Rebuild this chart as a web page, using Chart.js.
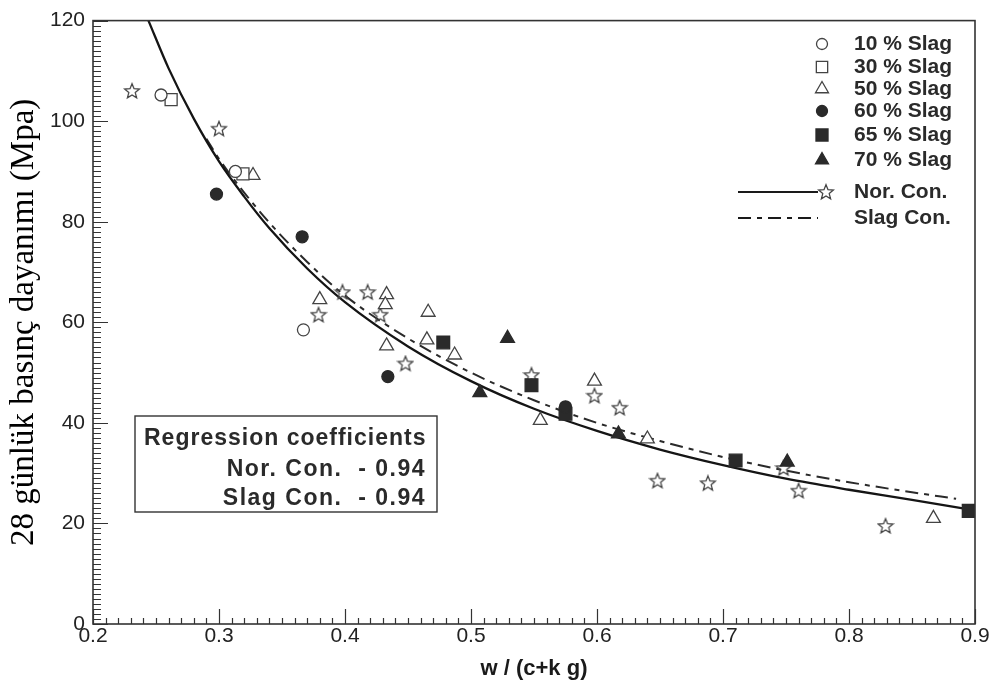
<!DOCTYPE html>
<html>
<head>
<meta charset="utf-8">
<script src="https://cdn.jsdelivr.net/npm/chart.js@4/dist/chart.umd.min.js"></script>
<style>
  body { margin: 0; background: #fff; }
  #wrap { width: 995px; height: 695px; }
</style>
</head>
<body>
<div id="wrap"><canvas id="chart" width="995" height="695"></canvas></div>
<script>
// --- data ---
const slag10 = [[0.254, 105.2], [0.313, 90], [0.367, 58.5]];
const slag30 = [[0.262, 104.3], [0.319, 89.5]];
const slag50 = [[0.327, 89.2], [0.380, 64.5], [0.433, 65.5], [0.432, 63.5], [0.433, 55.3],
                [0.466, 62], [0.465, 56.5], [0.487, 53.5], [0.555, 40.5], [0.598, 48.3],
                [0.640, 36.8], [0.867, 21]];
const slag60 = [[0.298, 85.5], [0.366, 77], [0.434, 49.2], [0.575, 43.2]];
const slag65 = [[0.478, 56], [0.548, 47.5], [0.575, 41.8], [0.710, 32.5], [0.895, 22.5]];
const slag70 = [[0.507, 46], [0.529, 56.8], [0.617, 37.8], [0.751, 32.2]];
const norCon = [[0.231, 106], [0.300, 98.5], [0.379, 61.5], [0.398, 66], [0.418, 66],
                [0.428, 61.5], [0.448, 51.8], [0.548, 49.5], [0.598, 45.4], [0.618, 43],
                [0.648, 28.5], [0.688, 28], [0.748, 31], [0.760, 26.5], [0.829, 19.5]];

// regression curves
const norFitX = [0.244, 0.26, 0.28, 0.30, 0.32, 0.34, 0.37, 0.40, 0.45, 0.50, 0.55, 0.60, 0.65, 0.70, 0.75, 0.80, 0.85, 0.90];
const norFitY = [120, 110.5, 100.5, 92, 85, 78.7, 70.7, 64, 55.2, 48.3, 42.8, 38.4, 34.7, 31.6, 28.9, 26.7, 24.7, 22.6];
const slagFitX = [0.29, 0.30, 0.32, 0.34, 0.37, 0.40, 0.45, 0.50, 0.55, 0.60, 0.65, 0.70, 0.75, 0.80, 0.85, 0.885];
const slagFitY = [96.5, 92.5, 85.8, 79.8, 72, 65.3, 56.8, 50, 44.5, 40, 36.4, 33.2, 30.5, 28.2, 26.2, 24.9];

const seriesNames = ['10 % Slag', '30 % Slag', '50 % Slag', '60 % Slag', '65 % Slag', '70 % Slag', 'Nor. Con.', 'Slag Con.'];
const xTicks = [0.2, 0.3, 0.4, 0.5, 0.6, 0.7, 0.8, 0.9];
const yTicks = [0, 20, 40, 60, 80, 100, 120];
const regLines = ['Nor. Con.  - 0.94', 'Slag Con.  - 0.94'];

const INK = '#2a2a2a';
const SANS = "'Liberation Sans', Arial, sans-serif";

// open five-point star marker
function makeStar() {
  const c = document.createElement('canvas');
  c.width = 18; c.height = 18;
  const g = c.getContext('2d');
  g.beginPath();
  for (let i = 0; i < 10; i++) {
    const r = i % 2 === 0 ? 7.8 : 3.4;
    const a = -Math.PI / 2 + i * Math.PI / 5;
    const px = 9 + r * Math.cos(a), py = 9.5 + r * Math.sin(a);
    if (i === 0) g.moveTo(px, py); else g.lineTo(px, py);
  }
  g.closePath();
  g.strokeStyle = '#444';
  g.lineWidth = 1.3;
  g.stroke();
  return c;
}
const starImg = makeStar();

const toPts = arr => arr.map(p => ({ x: p[0], y: p[1] }));
const zipPts = (xs, ys) => xs.map((x, i) => ({ x: x, y: ys[i] }));

const markerStyles = [
  { pointStyle: 'circle', radius: 6, fill: '#fff', border: '#444' },
  { pointStyle: 'rect', radius: 8.5, fill: '#fff', border: '#444' },
  { pointStyle: 'triangle', radius: 8, fill: '#fff', border: '#444' },
  { pointStyle: 'circle', radius: 6, fill: INK, border: INK },
  { pointStyle: 'rect', radius: 9, fill: INK, border: INK },
  { pointStyle: 'triangle', radius: 8, fill: INK, border: INK }
];
const scatterData = [slag10, slag30, slag50, slag60, slag65, slag70];

const datasets = scatterData.map((d, i) => ({
  label: seriesNames[i],
  data: toPts(d),
  showLine: false,
  pointStyle: markerStyles[i].pointStyle,
  pointRadius: markerStyles[i].radius,
  pointBackgroundColor: markerStyles[i].fill,
  pointBorderColor: markerStyles[i].border,
  pointBorderWidth: 1.3
}));
datasets.push({
  label: 'Nor. Con.',
  data: toPts(norCon),
  showLine: false,
  pointStyle: starImg,
  pointRadius: 8
});
datasets.push({
  label: 'Nor. Con. fit',
  data: zipPts(norFitX, norFitY),
  showLine: true,
  pointRadius: 0,
  borderColor: '#151515',
  borderWidth: 2.3,
  cubicInterpolationMode: 'monotone'
});
datasets.push({
  label: 'Slag Con. fit',
  data: zipPts(slagFitX, slagFitY),
  showLine: true,
  pointRadius: 0,
  borderColor: '#2a2a2a',
  borderWidth: 2,
  borderDash: [13, 6, 5, 6],
  cubicInterpolationMode: 'monotone'
});

// inward ticks, frame, legend and regression note
const decor = {
  id: 'decor',
  afterDraw(chart) {
    const { ctx, chartArea: a, scales: { x, y } } = chart;
    ctx.save();
    ctx.strokeStyle = '#333';
    ctx.lineWidth = 1.2;
    ctx.beginPath();
    for (let i = 0; i <= 70; i++) {
      const px = Math.round(x.getPixelForValue(0.2 + i / 100)) + 0.5;
      const len = i % 10 === 0 ? 15 : 6;
      ctx.moveTo(px, a.bottom); ctx.lineTo(px, a.bottom - len);
    }
    for (let i = 0; i <= 120; i++) {
      const py = Math.round(y.getPixelForValue(i)) + 0.5;
      const len = i % 20 === 0 ? 15 : 8;
      ctx.moveTo(a.left, py); ctx.lineTo(a.left + len, py);
    }
    ctx.stroke();

    ctx.lineWidth = 1.6;
    ctx.strokeRect(a.left, a.top, a.right - a.left, a.bottom - a.top);

    // legend
    const rows = [44, 67, 89, 111, 135, 160];
    ctx.font = 'bold 21px ' + SANS;
    ctx.textBaseline = 'middle';
    ctx.textAlign = 'left';
    rows.forEach((ry, i) => {
      const m = markerStyles[i];
      ctx.fillStyle = m.fill;
      ctx.strokeStyle = m.border;
      ctx.lineWidth = 1.3;
      Chart.helpers.drawPoint(ctx, { pointStyle: m.pointStyle, radius: m.radius - 0.5, rotation: 0, borderWidth: 1.3 }, 822, ry);
      ctx.fillStyle = INK;
      ctx.fillText(seriesNames[i], 854, ry);
    });
    ctx.strokeStyle = '#1a1a1a';
    ctx.lineWidth = 2;
    ctx.beginPath(); ctx.moveTo(738, 192); ctx.lineTo(818, 192); ctx.stroke();
    ctx.drawImage(starImg, 817, 183);
    ctx.fillText(seriesNames[6], 854, 192);
    ctx.setLineDash([13, 6, 5, 6]);
    ctx.beginPath(); ctx.moveTo(738, 218); ctx.lineTo(818, 218); ctx.stroke();
    ctx.setLineDash([]);
    ctx.fillText(seriesNames[7], 854, 218);

    // regression coefficients box
    ctx.fillStyle = '#fff';
    ctx.fillRect(135, 416, 302, 96);
    ctx.strokeStyle = '#333';
    ctx.lineWidth = 1.4;
    ctx.strokeRect(135, 416, 302, 96);
    ctx.fillStyle = INK;
    ctx.font = 'bold 23px ' + SANS;
    ctx.letterSpacing = '1px';
    ctx.textAlign = 'left';
    ctx.fillText('Regression coefficients', 144, 439);
    ctx.textAlign = 'right';
    ctx.letterSpacing = '1.5px';
    ctx.fillText(regLines[0], 426, 470);
    ctx.fillText(regLines[1], 426, 499);
    ctx.letterSpacing = '0px';
    ctx.restore();
  }
};

new Chart(document.getElementById('chart'), {
  type: 'scatter',
  data: { datasets: datasets },
  options: {
    responsive: false,
    animation: false,
    layout: { padding: { top: 19, right: 20, left: 0, bottom: 0 } },
    plugins: { legend: { display: false }, tooltip: { enabled: false } },
    scales: {
      x: {
        type: 'linear',
        min: 0.2, max: 0.9,
        afterFit(s) { s.height = 71; },
        afterBuildTicks(s) { s.ticks = xTicks.map(v => ({ value: v })); },
        grid: { display: false, drawTicks: false },
        border: { display: false },
        ticks: { padding: 0, color: '#222', font: { family: SANS, size: 21 }, callback: v => v.toFixed(1) },
        title: { display: true, text: 'w / (c+k g)', color: '#1a1a1a', font: { family: SANS, size: 22, weight: 'bold' }, padding: { top: 0, bottom: 13 } }
      },
      y: {
        type: 'linear',
        min: 0, max: 120,
        afterFit(s) { s.width = 93; },
        afterBuildTicks(s) { s.ticks = yTicks.map(v => ({ value: v })); },
        grid: { display: false, drawTicks: false },
        border: { display: false },
        ticks: { padding: 8, color: '#222', font: { family: SANS, size: 21 } },
        title: { display: true, text: '28 günlük basınç dayanımı (Mpa)', color: '#000', font: { family: "'Liberation Serif', 'Times New Roman', serif", size: 33 }, padding: { top: 5, bottom: 0 } }
      }
    }
  },
  plugins: [decor]
});
</script>
</body>
</html>
